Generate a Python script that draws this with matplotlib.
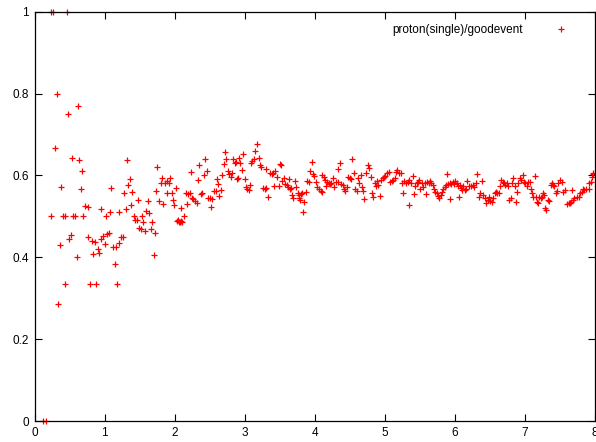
import matplotlib
matplotlib.use('Agg')
import matplotlib.pyplot as plt
from matplotlib.ticker import FuncFormatter

plt.rcParams['font.family'] = ['Liberation Sans', 'DejaVu Sans']

# readings from the reference: x position, ratio
x_vals = [
    0.12, 0.16, 0.23, 0.234, 0.27, 0.29, 0.32, 0.34, 0.358, 0.377, 0.41, 0.43, 0.434, 0.46, 0.48,
    0.495, 0.52, 0.54, 0.548, 0.58, 0.60, 0.615, 0.64, 0.66, 0.68, 0.695, 0.72, 0.758, 0.77, 0.79,
    0.815, 0.838, 0.862, 0.876, 0.90, 0.924, 0.944, 0.95, 0.98, 1.0, 1.02, 1.04, 1.067, 1.076, 1.095,
    1.12, 1.143, 1.16, 1.18, 1.20, 1.21, 1.24, 1.26, 1.276, 1.30, 1.32, 1.34, 1.36, 1.376, 1.395,
    1.42, 1.44, 1.46, 1.476, 1.495, 1.52, 1.54, 1.55, 1.58, 1.595, 1.615, 1.633, 1.657, 1.68, 1.70,
    1.72, 1.74, 1.75, 1.776, 1.80, 1.82, 1.84, 1.86, 1.886, 1.894, 1.914, 1.937, 1.957, 1.976, 1.994,
    2.014, 2.03, 2.05, 2.06, 2.07, 2.09, 2.094, 2.11, 2.133, 2.166, 2.18, 2.194, 2.218, 2.233, 2.247,
    2.266, 2.294, 2.323, 2.34, 2.35, 2.37, 2.39, 2.415, 2.44, 2.457, 2.48, 2.51, 2.518, 2.54, 2.56,
    2.585, 2.60, 2.62, 2.64, 2.66, 2.675, 2.70, 2.72, 2.74, 2.757, 2.78, 2.80, 2.82, 2.837, 2.857,
    2.875, 2.885, 2.90, 2.918, 2.936, 2.956, 2.98, 3.0, 3.02, 3.04, 3.065, 3.08, 3.09, 3.11, 3.13,
    3.15, 3.18, 3.2, 3.22, 3.24, 3.265, 3.29, 3.30, 3.31, 3.34, 3.36, 3.385, 3.40, 3.418, 3.436,
    3.46, 3.485, 3.50, 3.52, 3.54, 3.56, 3.58, 3.60, 3.62, 3.636, 3.646, 3.66, 3.675, 3.69, 3.715,
    3.73, 3.755, 3.775, 3.78, 3.79, 3.80, 3.82, 3.836, 3.85, 3.874, 3.89, 3.92, 3.93, 3.956, 3.97,
    3.99, 4.017, 4.036, 4.06, 4.085, 4.10, 4.11, 4.13, 4.146, 4.16, 4.18, 4.20, 4.22, 4.236, 4.255,
    4.28, 4.30, 4.33, 4.336, 4.356, 4.374, 4.40, 4.417, 4.435, 4.46, 4.48, 4.50, 4.517, 4.535, 4.555,
    4.58, 4.60, 4.617, 4.636, 4.655, 4.674, 4.69, 4.71, 4.735, 4.755, 4.78, 4.80, 4.82, 4.835, 4.855,
    4.874, 4.89, 4.91, 4.93, 4.95, 4.98, 4.99, 5.01, 5.035, 5.064, 5.08, 5.10, 5.12, 5.14, 5.16,
    5.18, 5.20, 5.23, 5.245, 5.265, 5.28, 5.30, 5.33, 5.34, 5.345, 5.37, 5.40, 5.416, 5.435, 5.455,
    5.47, 5.49, 5.51, 5.53, 5.55, 5.57, 5.587, 5.605, 5.626, 5.645, 5.663, 5.683, 5.70, 5.72, 5.74,
    5.76, 5.78, 5.80, 5.816, 5.835, 5.855, 5.87, 5.89, 5.91, 5.93, 5.935, 5.95, 5.97, 5.99, 6.01,
    6.03, 6.05, 6.055, 6.07, 6.09, 6.11, 6.12, 6.14, 6.16, 6.18, 6.20, 6.225, 6.254, 6.28, 6.31,
    6.32, 6.34, 6.36, 6.39, 6.41, 6.43, 6.44, 6.47, 6.49, 6.51, 6.53, 6.55, 6.57, 6.59, 6.61,
    6.63, 6.645, 6.66, 6.69, 6.70, 6.72, 6.74, 6.76, 6.78, 6.80, 6.82, 6.83, 6.86, 6.87, 6.89,
    6.91, 6.93, 6.95, 6.97, 6.99, 7.01, 7.03, 7.04, 7.07, 7.09, 7.10, 7.12, 7.145, 7.155, 7.17,
    7.19, 7.21, 7.23, 7.25, 7.26, 7.27, 7.29, 7.31, 7.33, 7.35, 7.37, 7.39, 7.41, 7.42, 7.44,
    7.46, 7.48, 7.50, 7.53, 7.55, 7.57, 7.60, 7.63, 7.64, 7.66, 7.68, 7.69, 7.71, 7.74, 7.77,
    7.79, 7.81, 7.83, 7.85, 7.88, 7.91, 7.92, 7.94, 7.96, 7.97, 7.98,
]
ratio_vals = [
    0.0, 0.0, 1.0, 0.5, 1.0, 0.667, 0.80, 0.286, 0.429, 0.572, 0.5, 0.5, 0.334, 1.0, 0.75,
    0.445, 0.454, 0.643, 0.5, 0.5, 0.40, 0.77, 0.637, 0.566, 0.61, 0.5, 0.526, 0.45, 0.522, 0.334,
    0.44, 0.407, 0.438, 0.334, 0.42, 0.411, 0.444, 0.517, 0.452, 0.432, 0.5, 0.457, 0.459, 0.511, 0.569,
    0.424, 0.384, 0.426, 0.334, 0.511, 0.436, 0.45, 0.449, 0.558, 0.517, 0.638, 0.577, 0.591, 0.527, 0.56,
    0.5, 0.492, 0.49, 0.541, 0.471, 0.469, 0.5, 0.487, 0.464, 0.514, 0.537, 0.507, 0.468, 0.485, 0.406,
    0.459, 0.561, 0.621, 0.538, 0.582, 0.593, 0.529, 0.582, 0.586, 0.558, 0.582, 0.593, 0.556, 0.54, 0.528,
    0.569, 0.489, 0.491, 0.486, 0.486, 0.489, 0.52, 0.487, 0.50, 0.558, 0.529, 0.555, 0.556, 0.608, 0.546,
    0.542, 0.538, 0.533, 0.590, 0.626, 0.555, 0.558, 0.602, 0.641, 0.61, 0.546, 0.544, 0.523, 0.542, 0.562,
    0.562, 0.591, 0.58, 0.55, 0.564, 0.60, 0.628, 0.657, 0.639, 0.612, 0.603, 0.597, 0.607, 0.639, 0.631,
    0.634, 0.591, 0.593, 0.643, 0.631, 0.613, 0.652, 0.591, 0.572, 0.567, 0.564, 0.576, 0.631, 0.635, 0.639,
    0.66, 0.677, 0.643, 0.625, 0.621, 0.569, 0.567, 0.616, 0.57, 0.548, 0.605, 0.603, 0.607, 0.574, 0.612,
    0.595, 0.575, 0.628, 0.625, 0.587, 0.594, 0.579, 0.577, 0.572, 0.591, 0.568, 0.57, 0.551, 0.546, 0.587,
    0.571, 0.558, 0.544, 0.552, 0.54, 0.555, 0.558, 0.511, 0.534, 0.56, 0.587, 0.583, 0.61, 0.632, 0.603,
    0.599, 0.584, 0.571, 0.568, 0.563, 0.56, 0.60, 0.595, 0.59, 0.574, 0.585, 0.581, 0.579, 0.582, 0.593,
    0.572, 0.585, 0.583, 0.615, 0.63, 0.579, 0.576, 0.566, 0.563, 0.572, 0.597, 0.593, 0.591, 0.639, 0.607,
    0.566, 0.563, 0.593, 0.582, 0.602, 0.571, 0.563, 0.542, 0.605, 0.626, 0.617, 0.597, 0.558, 0.547, 0.581,
    0.574, 0.587, 0.577, 0.55, 0.59, 0.593, 0.595, 0.599, 0.605, 0.609, 0.585, 0.587, 0.59, 0.593, 0.609,
    0.613, 0.607, 0.605, 0.581, 0.558, 0.587, 0.581, 0.585, 0.528, 0.589, 0.581, 0.599, 0.555, 0.574, 0.581,
    0.585, 0.589, 0.566, 0.581, 0.572, 0.582, 0.555, 0.585, 0.581, 0.587, 0.582, 0.577, 0.568, 0.56, 0.556,
    0.55, 0.544, 0.552, 0.56, 0.568, 0.572, 0.577, 0.603, 0.58, 0.542, 0.582, 0.578, 0.584, 0.58, 0.586,
    0.581, 0.575, 0.547, 0.577, 0.57, 0.565, 0.573, 0.564, 0.568, 0.587, 0.573, 0.573, 0.577, 0.571, 0.581,
    0.604, 0.548, 0.558, 0.586, 0.552, 0.544, 0.532, 0.541, 0.548, 0.538, 0.536, 0.544, 0.556, 0.56, 0.556,
    0.558, 0.573, 0.589, 0.585, 0.581, 0.577, 0.581, 0.573, 0.540, 0.544, 0.581, 0.593, 0.575, 0.534, 0.56,
    0.581, 0.593, 0.589, 0.601, 0.585, 0.581, 0.573, 0.585, 0.585, 0.568, 0.558, 0.548, 0.599, 0.548, 0.536,
    0.532, 0.548, 0.544, 0.548, 0.558, 0.552, 0.52, 0.516, 0.540, 0.538, 0.577, 0.581, 0.577, 0.573, 0.556,
    0.562, 0.581, 0.588, 0.585, 0.56, 0.564, 0.53, 0.532, 0.533, 0.536, 0.564, 0.54, 0.544, 0.548, 0.548,
    0.558, 0.56, 0.566, 0.564, 0.566, 0.568, 0.581, 0.585, 0.597, 0.604, 0.607,
]

x_ticks = [0, 1, 2, 3, 4, 5, 6, 7, 8]
y_ticks = [0, 0.2, 0.4, 0.6, 0.8, 1]

fig = plt.figure(figsize=(5.96, 4.42), dpi=100)
ax = fig.add_axes([0.058, 0.0475, 0.94, 0.926])

ax.plot(x_vals, ratio_vals, linestyle='none', marker='+', color='red',
        markersize=5, markeredgewidth=0.9, clip_on=False,
        label='proton(single)/goodevent')

ax.set_xlim(0, 8)
ax.set_ylim(0, 1)
ax.set_xticks(x_ticks)
ax.set_yticks(y_ticks)
ax.yaxis.set_major_formatter(FuncFormatter(lambda v, p: '%g' % v))
ax.tick_params(direction='in', length=5, width=0.8, top=True, right=True,
               labelsize=8.5, colors='black', pad=4)
for s in ax.spines.values():
    s.set_linewidth(0.9)

leg = ax.legend(loc='upper right', bbox_to_anchor=(0.971, 0.99), frameon=False,
                fontsize=8.5, markerfirst=False, handlelength=1.5,
                borderaxespad=0.3, handletextpad=2.5)

fig.savefig('out.png', dpi=100)
